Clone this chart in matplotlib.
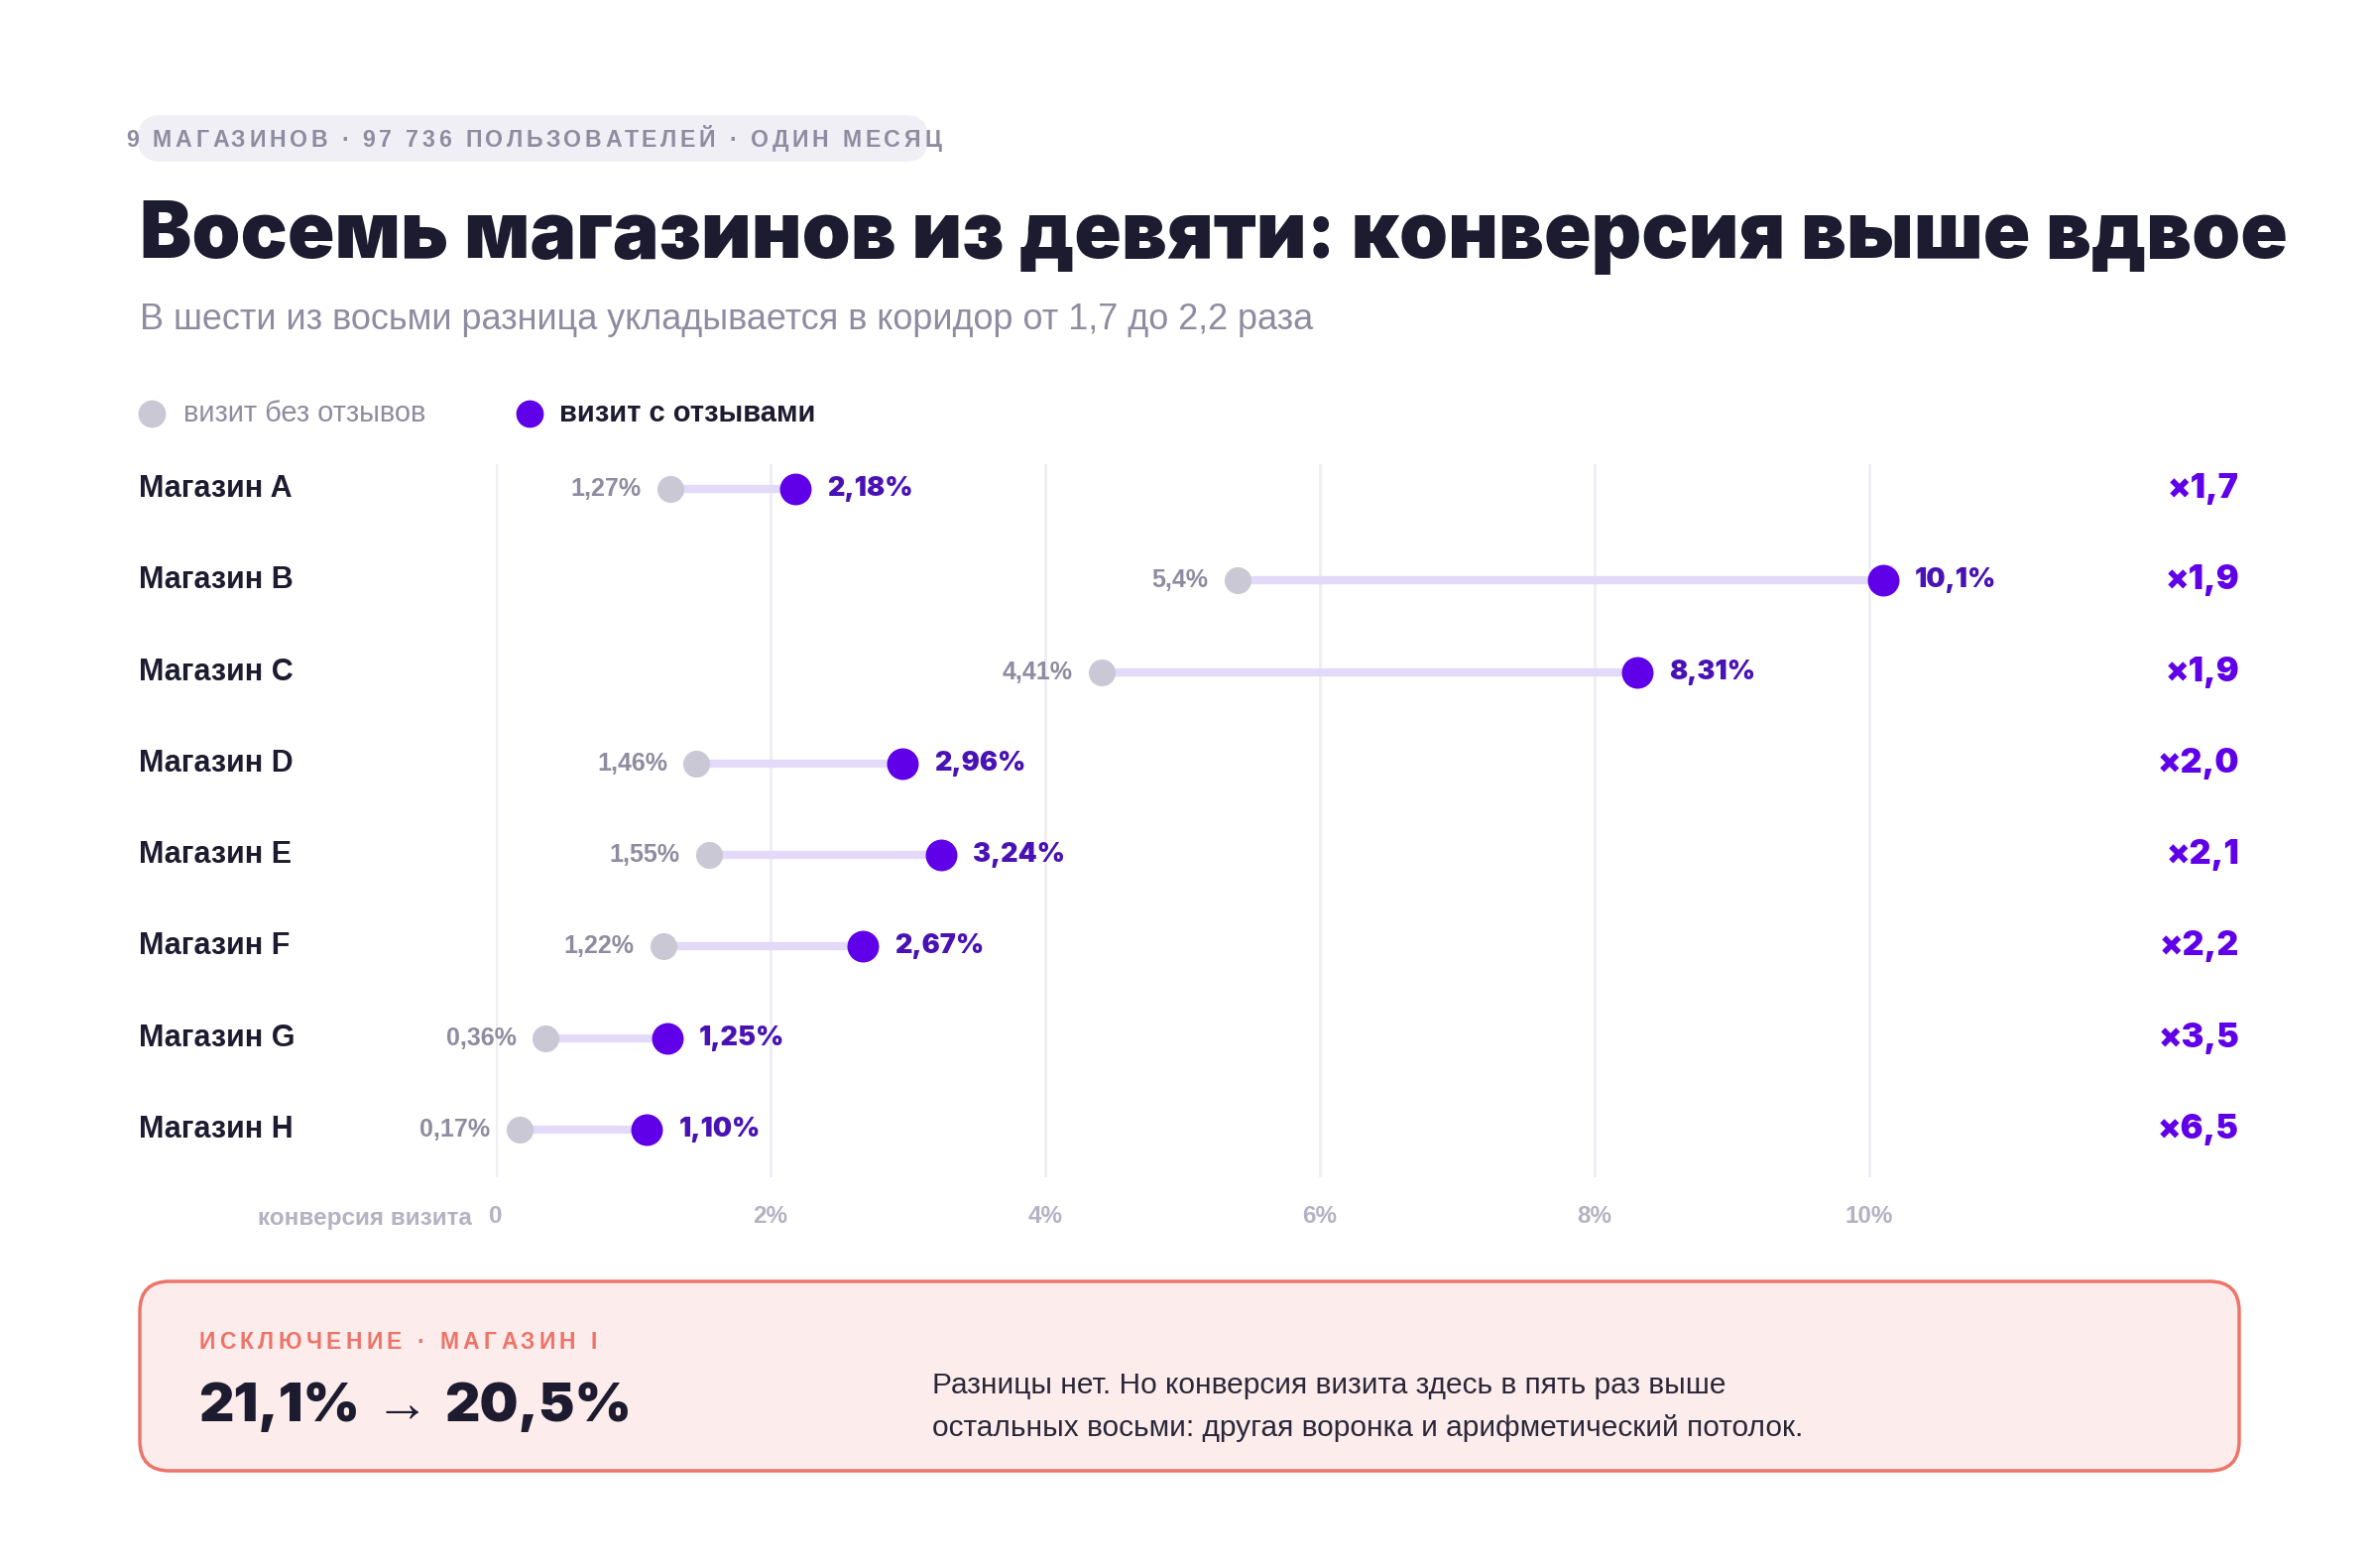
import matplotlib
matplotlib.use('Agg')
import matplotlib.pyplot as plt
import matplotlib.transforms as mtransforms
from matplotlib import font_manager
from matplotlib.font_manager import FontProperties
from matplotlib.patches import FancyBboxPatch
from matplotlib.lines import Line2D

plt.rcParams['font.family'] = ['Liberation Sans', 'DejaVu Sans']

# data
stores = ['Магазин A', 'Магазин B', 'Магазин C', 'Магазин D',
          'Магазин E', 'Магазин F', 'Магазин G', 'Магазин H']
no_reviews = [1.27, 5.4, 4.41, 1.46, 1.55, 1.22, 0.36, 0.17]
with_reviews = [2.18, 10.1, 8.31, 2.96, 3.24, 2.67, 1.25, 1.10]
no_labels = ['1,27%', '5,4%', '4,41%', '1,46%', '1,55%', '1,22%', '0,36%', '0,17%']
with_labels = ['2,18%', '10,1%', '8,31%', '2,96%', '3,24%', '2,67%', '1,25%', '1,10%']
ticks = [0, 2, 4, 6, 8, 10]
tick_labels = ['0', '2%', '4%', '6%', '8%', '10%']
exc_before = 21.1
exc_after = 20.5

DARK = '#1d1b2f'
GRAY_TXT = '#8e8ca0'
LIGHT_TXT = '#b4b2c3'
GRAY_DOT = '#c9c8d4'
PURPLE = '#5f00e8'
PURPLE_TXT = '#4812b4'
LINE = '#e3d9f8'
GRID = '#eeedf3'
SALMON = '#ec7468'
PINK = '#fdecec'

W, H = 2400, 1580

# heaviest sans available for the title and big numbers
heavy = 'Liberation Sans'
for name in ['Inter', 'Noto Sans', 'Roboto', 'Open Sans', 'Lato']:
    if any(f.name == name and f.weight >= 800 for f in font_manager.fontManager.ttflist):
        heavy = name
        break
HEAVY = dict(family=[heavy, 'DejaVu Sans'], fontweight=900)


def fx(x):
    return x / W


def fy(y):
    return 1 - y / H


fig = plt.figure(figsize=(24, 15.8), dpi=100)
fig.patch.set_facecolor('white')
renderer = fig.canvas.get_renderer()


def text_width(t, prop):
    # advance width in px (trailing spaces counted)
    if not t:
        return 0.0
    bar = renderer.get_text_width_height_descent('|', prop, ismath=False)[0]
    return renderer.get_text_width_height_descent(t + '|', prop, ismath=False)[0] - bar


def spaced_text(x, y, s, target_w, prop, color):
    # text with letter spacing, stretched to target width in px
    gap = (target_w - text_width(s, prop)) / (len(s) - 1)
    for i, ch in enumerate(s):
        if ch == ' ':
            continue
        fig.text(fx(x + text_width(s[:i], prop) + i * gap), fy(y), ch, fontproperties=prop,
                 color=color, ha='left', va='baseline')


# header pill
pill = FancyBboxPatch((1.39, (H - 163) / 100), 9.36 - 1.39, 0.47,
                      boxstyle='round,pad=0,rounding_size=0.235',
                      transform=fig.dpi_scale_trans, fc='#f0eff5', ec='none')
fig.add_artist(pill)
spaced_text(127, 148, '9 МАГАЗИНОВ · 97 736 ПОЛЬЗОВАТЕЛЕЙ · ОДИН МЕСЯЦ', 822,
            FontProperties(family='Liberation Sans', weight='bold', size=16.7), GRAY_TXT)

fig.text(fx(141), fy(260), 'Восемь магазинов из девяти: конверсия выше вдвое',
         fontsize=56.5, color=DARK, va='baseline', **HEAVY)
fig.text(fx(141), fy(332), 'В шести из восьми разница укладывается в коридор от 1,7 до 2,2 раза',
         fontsize=25.9, color=GRAY_TXT, va='baseline')

# legend
fig.add_artist(Line2D([fx(153)], [fy(417)], transform=fig.transFigure, marker='o',
                      ms=20, color=GRAY_DOT, mec='none'))
fig.text(fx(185), fy(425), 'визит без отзывов', fontsize=20.9, color=GRAY_TXT, va='baseline')
fig.add_artist(Line2D([fx(534)], [fy(417)], transform=fig.transFigure, marker='o',
                      ms=20, color=PURPLE, mec='none'))
fig.text(fx(564), fy(425), 'визит с отзывами', fontsize=21, fontweight='bold',
         color=DARK, va='baseline')

# dumbbell chart
ax = fig.add_axes([fx(500), fy(1187), (2270 - 500) / W, (1187 - 468) / H])
ys = list(range(len(stores)))
ax.set_xlim(0, (2270 - 500) / 138.5)
ax.set_ylim(len(stores) - 0.48, -0.27)

ax.hlines(ys, no_reviews, with_reviews, color=LINE, lw=6, zorder=2)
ax.plot(no_reviews, ys, 'o', ms=19.5, color=GRAY_DOT, mec='none', zorder=3, clip_on=False)
ax.plot(with_reviews, ys, 'o', ms=23, color=PURPLE, mec='none', zorder=4, clip_on=False)

for i in ys:
    ax.annotate(no_labels[i], (no_reviews[i], i), xytext=(-21, 0), textcoords='offset points',
                ha='right', va='center', fontsize=18, fontweight='bold', color=GRAY_TXT)
    ax.annotate(with_labels[i], (with_reviews[i], i), xytext=(23, 0), textcoords='offset points',
                ha='left', va='center', fontsize=19.5, color=PURPLE_TXT, **HEAVY)

label_tr = mtransforms.blended_transform_factory(fig.transFigure, ax.transData)
for i, name in enumerate(stores):
    ax.text(fx(140), i, name, transform=label_tr, ha='left', va='center',
            fontsize=22, fontweight='bold', color=DARK)
    ratio = with_reviews[i] / no_reviews[i]
    ax.text(fx(2258), i, ('×%.1f' % ratio).replace('.', ','), transform=label_tr,
            ha='right', va='center', fontsize=24.5, color=PURPLE, **HEAVY)

ax.set_xticks(ticks, tick_labels)
ax.set_yticks([])
ax.tick_params(axis='x', length=0, pad=20, labelsize=17.5, labelcolor=LIGHT_TXT)
for lbl in ax.get_xticklabels():
    lbl.set_fontweight('bold')
ax.grid(axis='x', color=GRID, lw=2, zorder=0)
ax.set_axisbelow(True)
for sp in ax.spines.values():
    sp.set_visible(False)
ax.patch.set_alpha(0)

fig.text(fx(476), fy(1228), 'конверсия визита', ha='right', va='center',
         fontsize=17.5, fontweight='bold', color=LIGHT_TXT)

# exception box
box = FancyBboxPatch((1.41, (H - 1483) / 100), 22.58 - 1.41, (1483 - 1292) / 100,
                     boxstyle='round,pad=0,rounding_size=0.3',
                     transform=fig.dpi_scale_trans, fc=PINK, ec=SALMON, lw=2.5)
fig.add_artist(box)
spaced_text(200, 1360, 'ИСКЛЮЧЕНИЕ · МАГАЗИН I', 402,
            FontProperties(family='Liberation Sans', weight='bold', size=16.5), SALMON)

# big numbers with a thin arrow between them
big = FontProperties(family=heavy, weight=900, size=39.5)
arrow = FontProperties(family='Liberation Sans', weight='normal', size=39.5)
parts = [(('%.1f%%' % exc_before).replace('.', ','), big),
         (' → ', arrow),
         (('%.1f%%' % exc_after).replace('.', ','), big)]
x = 200
for s, prop in parts:
    fig.text(fx(x), fy(1433), s, fontproperties=prop, color=DARK, va='baseline')
    x += text_width(s, prop)

fig.text(fx(940), fy(1405), 'Разницы нет. Но конверсия визита здесь в пять раз выше',
         fontsize=21.5, color='#2a2838', va='baseline')
fig.text(fx(940), fy(1448), 'остальных восьми: другая воронка и арифметический потолок.',
         fontsize=21.5, color='#2a2838', va='baseline')

fig.savefig('out.png', dpi=100)
